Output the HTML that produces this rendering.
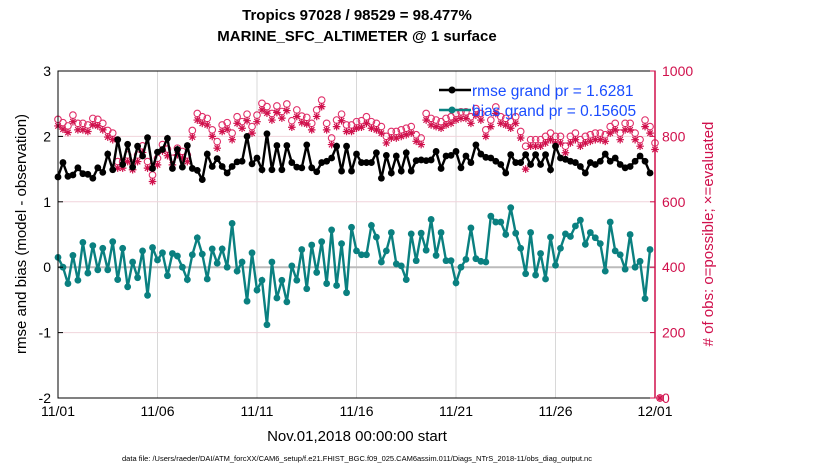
<!DOCTYPE html>
<html><head><meta charset="utf-8"><style>
body{margin:0;background:#fff;}
svg{display:block;font-family:"Liberation Sans",sans-serif;}
</style></head><body>
<svg id="chart" width="830" height="470" viewBox="0 0 830 470">
<text x="357" y="20" text-anchor="middle" font-size="15" font-weight="bold">Tropics 97028 / 98529 = 98.477%</text>
<text x="357" y="41" text-anchor="middle" font-size="15" font-weight="bold">MARINE_SFC_ALTIMETER @ 1 surface</text>
<g id="grid"></g>
<g id="marks"></g>
<rect x="58" y="71" width="597" height="327" fill="none" stroke="#000" stroke-width="1"/>
<line x1="655" y1="71" x2="655" y2="398" stroke="#d0104c" stroke-width="1.5"/>
<g id="axes"></g>
<text transform="translate(26,234) rotate(-90)" text-anchor="middle" font-size="15">rmse and bias (model - observation)</text>
<text transform="translate(713,234) rotate(-90)" text-anchor="middle" font-size="15" fill="#d0104c"># of obs: o=possible; ×=evaluated</text>
<text x="357" y="441" text-anchor="middle" font-size="15">Nov.01,2018 00:00:00 start</text>
<text x="357" y="461" text-anchor="middle" font-size="7.5">data file: /Users/raeder/DAI/ATM_forcXX/CAM6_setup/f.e21.FHIST_BGC.f09_025.CAM6assim.011/Diags_NTrS_2018-11/obs_diag_output.nc</text>
<g>
<line x1="439" y1="90" x2="471" y2="90" stroke="#000" stroke-width="2.5"/>
<circle cx="452" cy="90" r="3.5" fill="#000"/>
<text x="472" y="96" font-size="15.5" fill="#1a4dff">rmse grand pr = 1.6281</text>
<line x1="439" y1="110" x2="471" y2="110" stroke="#0a8080" stroke-width="2.5"/>
<circle cx="452" cy="110" r="3.5" fill="#0a8080"/>
<text x="472" y="116" font-size="15.5" fill="#1a4dff">bias grand pr = 0.15605</text>
</g>
</svg>
<script>
const dayTicks=[0,5,10,15,20,25,30];
const dayLabels=["11/01","11/06","11/11","11/16","11/21","11/26","12/01"];
const leftTicks=[3,2,1,0,-1,-2];
const rightTicks=[1000,800,600,400,200,0];
const rmse=[1.38,1.6,1.39,1.41,1.52,1.43,1.42,1.36,1.52,1.45,1.73,1.49,1.95,1.57,1.88,1.53,1.85,1.7,1.98,1.51,1.76,1.8,1.97,1.51,1.8,1.53,1.86,1.51,1.48,1.34,1.73,1.54,1.66,1.54,1.44,1.54,1.61,1.62,2.0,1.58,1.67,1.49,2.04,1.49,1.86,1.49,1.86,1.6,1.53,1.52,1.87,1.52,1.46,1.6,1.62,1.67,1.85,1.47,1.85,1.47,1.73,
1.6,1.6,1.6,1.75,1.36,1.71,1.44,1.7,1.47,1.75,1.47,1.63,1.64,1.63,1.64,1.77,1.51,1.7,1.71,1.77,1.52,1.7,1.6,1.87,1.73,1.68,1.67,1.62,1.57,1.44,1.72,1.6,1.6,1.72,1.57,1.72,1.57,1.72,1.49,1.85,1.67,1.65,1.62,1.6,1.54,1.44,1.6,1.57,1.62,1.73,1.62,1.67,1.57,1.52,1.54,1.62,1.7,1.62,1.44];
const bias=[0.15,0,-0.25,0.18,-0.2,0.38,-0.09,0.33,-0.04,0.29,-0.04,0.39,-0.19,0.29,-0.3,0.08,-0.16,0.25,-0.43,0.3,0.11,0.22,-0.13,0.21,0.17,0,-0.19,0.19,0.45,0.2,-0.18,0.28,0.06,0.28,0,0.67,-0.06,0.08,-0.52,0.22,-0.35,-0.2,-0.88,0.08,-0.47,-0.2,-0.53,0.02,-0.2,0.27,-0.33,0.34,-0.08,0.39,-0.25,0.57,-0.28,0.36,-0.39,0.61,0.25,
0.19,0.19,0.64,0.46,0.08,0.25,0.53,0.05,0.02,-0.19,0.51,0.1,0.52,0.26,0.73,0.18,0.53,0.1,0.1,-0.24,0,0.12,0.6,0.13,0.09,0.08,0.78,0.69,0.69,0.5,0.91,0.52,0.29,-0.1,0.53,-0.12,0.21,-0.18,0.46,0.03,0.29,0.51,0.47,0.63,0.72,0.35,0.53,0.45,0.36,-0.06,0.69,0.25,0.19,-0.03,0.5,0,0.09,-0.48,0.27];
const possible=[852,842,832,865,840,840,835,855,852,840,818,810,723,723,743,718,743,771,723,682,733,775,761,733,764,754,743,818,870,860,855,820,784,835,842,810,860,845,868,830,865,901,891,870,893,876,899,848,881,862,858,840,881,911,840,795,850,868,835,835,845,
848,860,845,840,830,800,815,815,820,825,830,805,795,870,855,850,845,855,860,870,875,875,860,885,870,820,850,890,860,855,845,860,815,770,790,790,790,800,810,800,800,770,800,810,790,800,805,810,810,805,830,840,810,840,840,810,790,850,830,780,0];
const evaluated=[832,822,812,845,820,820,815,835,832,820,798,790,703,703,723,698,723,751,703,662,713,755,741,713,744,734,723,798,850,840,835,800,764,815,822,790,840,825,848,810,845,881,871,850,873,856,879,828,861,842,838,820,861,891,820,775,830,848,815,815,825,
828,840,825,820,810,780,795,795,800,805,810,785,775,850,835,830,825,835,840,850,855,855,840,865,850,800,830,870,840,835,825,840,795,700,770,770,770,780,790,780,780,750,780,790,770,780,785,790,790,785,810,820,790,820,820,790,770,830,810,760,0];
const NS="http://www.w3.org/2000/svg";
const X0=58,X1=655,Y0=71,Y1=398;
const xs=i=>X0+(X1-X0)*i/120;
const xd=d=>X0+(X1-X0)*d/30;
const yl=v=>Y1-(v+2)/5*(Y1-Y0);
const yr=v=>Y1-v/1000*(Y1-Y0);
function mk(tag,attrs,parent){const e=document.createElementNS(NS,tag);for(const k in attrs)e.setAttribute(k,attrs[k]);parent.appendChild(e);return e;}
const grid=document.getElementById('grid'),marks=document.getElementById('marks'),axes=document.getElementById('axes');
dayTicks.forEach((d,i)=>{
  const l=mk('line',{x1:xd(d),x2:xd(d),y1:Y0,y2:Y1,stroke:'#d8d8d8','stroke-width':1},grid);
  
  
  const t=mk('text',{x:xd(d),y:Y1+18,'text-anchor':'middle','font-size':14},axes);
  t.textContent=dayLabels[i];
  
  
});
leftTicks.forEach(v=>{
  if(v!==3&&v!==-2&&v!==0){const g=mk('line',{x1:X0,x2:X1,y1:yl(v),y2:yl(v),stroke:'#f0d4dc','stroke-width':1},grid);
  
  }
  mk('line',{x1:X0,x2:X0+5,y1:yl(v),y2:yl(v),stroke:'#000'},axes);
  const t=mk('text',{x:X0-7,y:yl(v)+5,'text-anchor':'end','font-size':14},axes);
  t.textContent=v;
  
  
});
rightTicks.forEach(v=>{
  mk('line',{x1:X1-5,x2:X1,y1:yr(v),y2:yr(v),stroke:'#d0104c'},axes);
  const t=mk('text',{x:X1+7,y:yr(v)+5,'font-size':14,fill:'#d0104c'},axes);
  t.textContent=v;
  
  
});
const z=mk('line',{x1:X0,x2:X1,y1:yl(0),y2:yl(0),stroke:'#bbb','stroke-width':2},grid);


possible.forEach((v,i)=>{
  const c=mk('circle',{cx:xs(i),cy:yr(v),r:3.3,fill:'none',stroke:'#e0306a','stroke-width':1.1},marks);
  
  
});
evaluated.forEach((v,i)=>{
  const x=xs(i),y=yr(v),r=3.8,d=2.7;
  const p=mk('path',{d:`M${x-r},${y}H${x+r}M${x},${y-r}V${y+r}M${x-d},${y-d}L${x+d},${y+d}M${x-d},${y+d}L${x+d},${y-d}`,stroke:'#d0104c','stroke-width':1.2,fill:'none'},marks);
  
  
});
function series(arr,color,name){
  const p=mk('polyline',{points:arr.map((v,i)=>xs(i)+','+yl(v)).join(' '),fill:'none',stroke:color,'stroke-width':2.4},marks);
  
  
  arr.forEach((v,i)=>{
    const c=mk('circle',{cx:xs(i),cy:yl(v),r:3.4,fill:color},marks);
    
    
  });
}
series(rmse,'#000','rmse');
series(bias,'#0a8080','bias');
</script>
</body></html>
